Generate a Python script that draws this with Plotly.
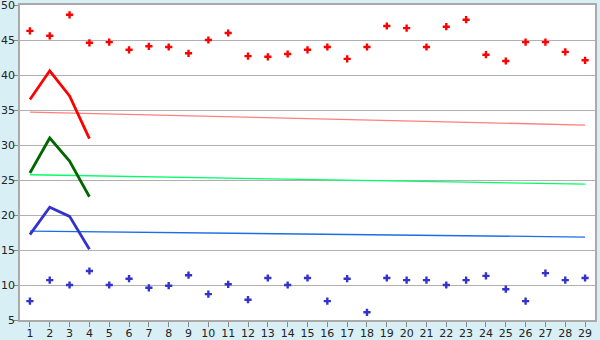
import plotly.graph_objects as go

days = list(range(1, 30))
red_points = [46.3, 45.6, 48.6, 44.6, 44.7, 43.6, 44.1, 44.0, 43.1, 45.0,
              46.0, 42.7, 42.6, 43.0, 43.6, 44.0, 42.3, 44.0, 47.0, 46.7,
              44.0, 46.9, 47.9, 42.9, 42.0, 44.7, 44.7, 43.3, 42.1]
blue_points = [7.7, 10.7, 10.0, 12.0, 10.0, 10.9, 9.6, 9.9, 11.4, 8.7,
               10.1, 7.9, 11.0, 10.0, 11.0, 7.7, 10.9, 6.1, 11.0, 10.7,
               10.7, 10.0, 10.7, 11.3, 9.4, 7.7, 11.7, 10.7, 11.0]
short_days = [1, 2, 3, 4]
red_line = [36.5, 40.6, 37.0, 30.9]
green_line = [26.0, 31.0, 27.7, 22.6]
blue_line = [17.2, 21.1, 19.8, 15.1]
trend_days = [1, 29]
red_trend = [34.7, 32.85]
green_trend = [25.75, 24.4]
blue_trend = [17.7, 16.85]
y_ticks = [5, 10, 15, 20, 25, 30, 35, 40, 45, 50]

fig = go.Figure()
fig.add_trace(go.Scatter(x=trend_days, y=red_trend, mode="lines",
                         line=dict(color="#ff7f7f", width=1.3)))
fig.add_trace(go.Scatter(x=trend_days, y=green_trend, mode="lines",
                         line=dict(color="#00ff66", width=1.3)))
fig.add_trace(go.Scatter(x=trend_days, y=blue_trend, mode="lines",
                         line=dict(color="#1a6ee6", width=1.3)))
fig.add_trace(go.Scatter(x=short_days, y=red_line, mode="lines",
                         line=dict(color="#ff0000", width=2.8)))
fig.add_trace(go.Scatter(x=short_days, y=green_line, mode="lines",
                         line=dict(color="#006600", width=2.8)))
fig.add_trace(go.Scatter(x=short_days, y=blue_line, mode="lines",
                         line=dict(color="#3333cc", width=2.8)))
fig.add_trace(go.Scatter(x=days, y=red_points, mode="markers",
                         marker=dict(symbol="cross", size=6, color="#ff0000", line=dict(width=0))))
fig.add_trace(go.Scatter(x=days, y=blue_points, mode="markers",
                         marker=dict(symbol="cross", size=6, color="#3333cc", line=dict(width=0))))

fig.update_layout(
    width=600, height=340,
    margin=dict(l=20, r=5, t=5, b=20),
    paper_bgcolor="#d9eff6", plot_bgcolor="#ffffff",
    showlegend=False,
    font=dict(family="DejaVu Sans", size=11, color="#222222"),
)
fig.update_xaxes(range=[0.5, 29.5], tickvals=days, ticks="outside", ticklen=5,
                 tickcolor="#888888", showgrid=False, showline=True,
                 linecolor="#aaaaaa", linewidth=1.5, mirror=True, zeroline=False,
                 automargin=False, ticklabelstandoff=-3, ticklabeloverflow="allow")
fig.update_yaxes(range=[5, 50], tickvals=y_ticks, ticks="outside", ticklen=4,
                 tickcolor="#888888", showgrid=True, gridcolor="#b0b0b0",
                 gridwidth=1, showline=True, linecolor="#aaaaaa", linewidth=1.5,
                 mirror=True, zeroline=False, automargin=False, ticklabelstandoff=-3,
                 ticklabeloverflow="allow")

fig.write_html("out.html")
